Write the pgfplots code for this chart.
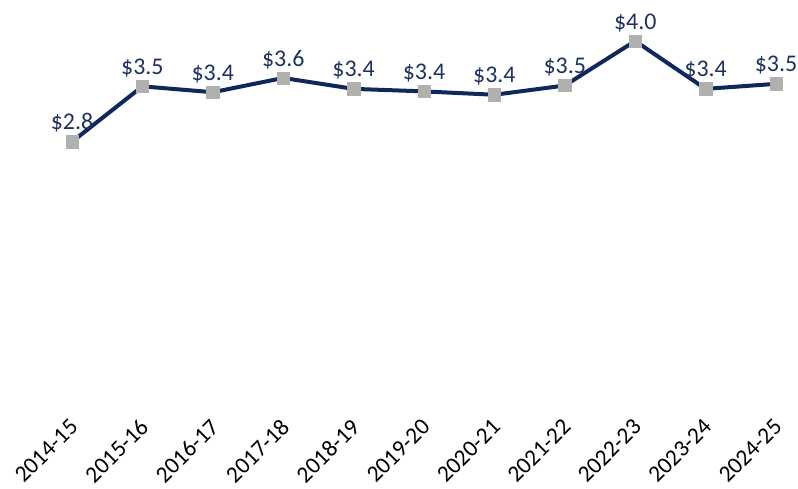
\documentclass[border=0pt]{standalone}
\usepackage{pgfplots}
\pgfplotsset{compat=1.18}
\usepackage{fontspec}
\setmainfont{Carlito}
\definecolor{navy}{RGB}{14,40,92}
\definecolor{lab}{RGB}{28,50,96}
\definecolor{mk}{RGB}{176,176,174}
\begin{document}
\begin{tikzpicture}[x=1bp,y=1bp]
\begin{axis}[
  scale only axis, width=774.4bp, height=378bp,
  xmin=-0.5, xmax=10.5, ymin=0, ymax=4.5,
  axis x line=bottom, axis y line=none,
  x axis line style={draw=none},
  major tick length=0pt,
  xtick={0,...,10},
  xticklabels={2014-15,2015-16,2016-17,2017-18,2018-19,2019-20,2020-21,2021-22,2022-23,2023-24,2024-25},
  xticklabel style={xshift=2bp, yshift=-46bp, rotate=45, anchor=east, inner sep=0pt, font=\fontsize{23.5}{26}\selectfont, text=black},
  clip=false,
  nodes near coords, point meta=explicit symbolic,
  every node near coord/.append style={font=\fontsize{24}{26}\selectfont, text=lab, anchor=south, yshift=7bp, inner sep=2bp},
]
\addplot[navy, line width=4bp, mark=square*, mark size=6.2bp, mark options={fill=mk, draw=mk, line width=0.5bp}]
coordinates {
(0,2.80) [\$2.8]
(1,3.46) [\$3.5]
(2,3.39) [\$3.4]
(3,3.56) [\$3.6]
(4,3.43) [\$3.4]
(5,3.40) [\$3.4]
(6,3.36) [\$3.4]
(7,3.47) [\$3.5]
(8,4.00) [\$4.0]
(9,3.43) [\$3.4]
(10,3.49) [\$3.5]
};
\end{axis}
\pgfresetboundingbox
\path[use as bounding box] (-36.8,-112) rectangle (761.2,377);
\end{tikzpicture}
\end{document}
